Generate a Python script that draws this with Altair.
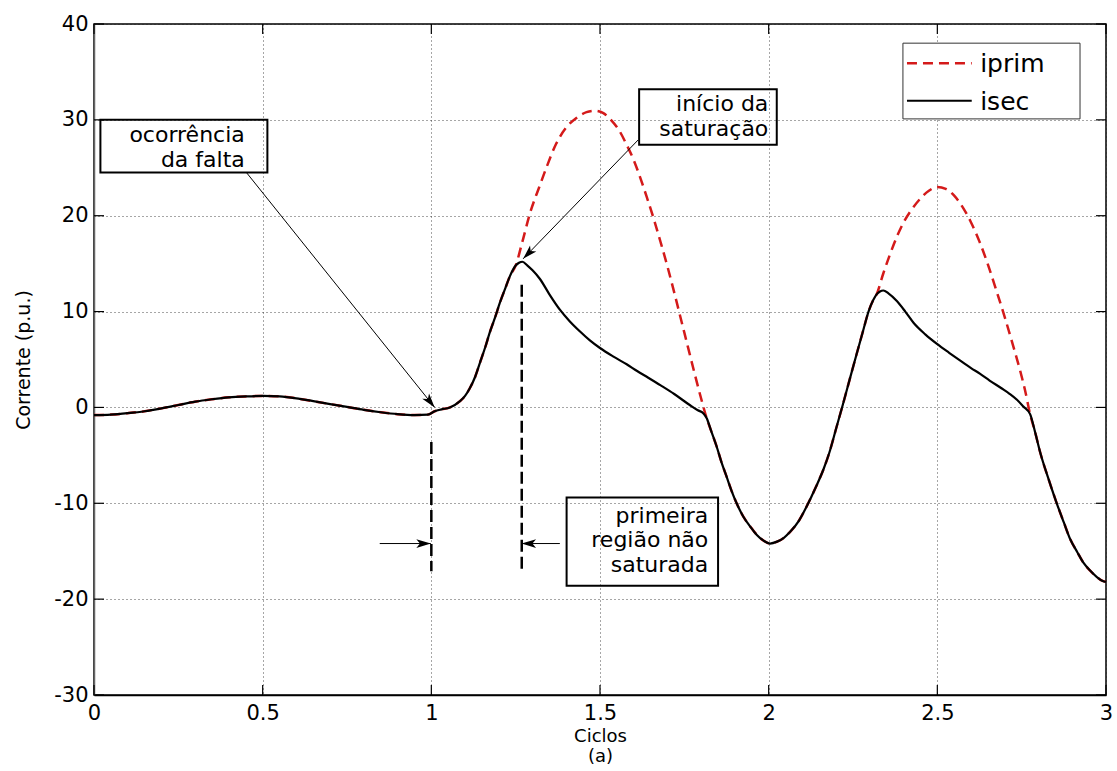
import math
import altair as alt
import pandas as pd

# ---------------- data ----------------
# shared part (before and just after the fault)
pre_t = [0.00, 0.05, 0.10, 0.15, 0.20, 0.25, 0.30, 0.35, 0.40, 0.45, 0.50, 0.55, 0.60,
         0.65, 0.70, 0.75, 0.80, 0.85, 0.90, 0.95, 0.99, 1.01, 1.03, 1.055, 1.085, 1.10,
         1.114, 1.13, 1.144, 1.16, 1.173, 1.19, 1.203, 1.22, 1.233, 1.25]
pre_v = [-0.8, -0.75, -0.6, -0.4, -0.1, 0.25, 0.6, 0.85, 1.05, 1.15, 1.2, 1.15, 0.95,
         0.65, 0.35, 0.05, -0.25, -0.5, -0.7, -0.8, -0.75, -0.4, -0.2, 0.0, 0.66, 1.2,
         2.0, 3.2, 4.65, 6.3, 7.8, 9.5, 10.9, 12.5, 13.7, 14.8]

# first saturated half-cycle
prim1_t = [1.27, 1.292, 1.32, 1.342, 1.37, 1.40, 1.43, 1.46, 1.485, 1.51, 1.535, 1.555,
           1.579, 1.60, 1.62, 1.64, 1.66, 1.68, 1.70, 1.72, 1.74, 1.76, 1.78, 1.80]
prim1_v = [17.3, 20.2, 23.0, 25.1, 27.5, 29.2, 30.2, 30.8, 30.95, 30.7, 29.9, 29.0,
           27.4, 25.8, 23.9, 21.8, 19.6, 17.2, 14.7, 12.0, 9.2, 6.4, 3.6, 0.9]
sec1_t = [1.26, 1.27, 1.285, 1.30, 1.322, 1.35, 1.381, 1.41, 1.44, 1.47, 1.50, 1.54,
          1.579, 1.61, 1.643, 1.68, 1.72, 1.766, 1.79, 1.806]
sec1_v = [15.1, 15.2, 14.8, 14.3, 13.4, 11.8, 10.2, 9.0, 7.95, 7.0, 6.2, 5.3,
          4.5, 3.8, 3.1, 2.3, 1.4, 0.25, -0.3, -0.6]

# shared part (negative half-cycle)
mid_t = [1.816, 1.83, 1.846, 1.86, 1.875, 1.89, 1.905, 1.925, 1.945, 1.965, 1.985, 2.004,
         2.025, 2.045, 2.063, 2.09, 2.113, 2.14, 2.162, 2.18, 2.20, 2.22, 2.24, 2.261,
         2.28, 2.296, 2.31, 2.32]
mid_v = [-1.1, -2.5, -4.1, -5.7, -7.2, -8.7, -10.0, -11.4, -12.4, -13.3, -13.9, -14.2,
         -14.0, -13.6, -13.0, -11.8, -10.3, -8.3, -6.5, -4.7, -2.2, 0.3, 2.9, 5.6,
         8.0, 10.0, 11.2, 11.8]

# second saturated half-cycle
prim2_t = [2.34, 2.36, 2.38, 2.40, 2.425, 2.45, 2.475, 2.50, 2.525, 2.55, 2.575, 2.60,
           2.625, 2.65, 2.675, 2.70, 2.725, 2.745, 2.76]
prim2_v = [14.0, 16.0, 17.8, 19.3, 20.7, 21.8, 22.6, 23.0, 22.8, 22.1, 20.9, 19.3,
           17.3, 14.9, 12.2, 9.4, 6.4, 3.9, 1.8]
sec2_t = [2.33, 2.34, 2.355, 2.38, 2.405, 2.43, 2.465, 2.50, 2.535, 2.567, 2.60, 2.627,
          2.655, 2.69, 2.715, 2.736, 2.755]
sec2_v = [12.1, 12.2, 11.9, 11.1, 10.0, 8.8, 7.6, 6.6, 5.7, 4.9, 4.1, 3.5,
          2.8, 2.0, 1.4, 0.8, 0.1]

# shared final part
end_t = [2.775, 2.79, 2.805, 2.83, 2.854, 2.875, 2.894, 2.915, 2.933, 2.955, 2.973, 2.99, 3.0]
end_v = [-0.7, -2.6, -4.7, -7.5, -10.0, -12.0, -13.75, -15.1, -16.2, -17.1, -17.7, -18.1, -18.2]

series_names = ["iprim", "isec"]
x_ticks = [0, 0.5, 1, 1.5, 2, 2.5, 3]
y_ticks = [-30, -20, -10, 0, 10, 20, 30, 40]

# annotation boxes (data coordinates)
box_x = [0.019, 1.616, 1.401]
box_x2 = [0.514, 2.024, 1.850]
box_y = [30.0, 33.2, -9.4]
box_y2 = [24.5, 27.4, -18.6]

note_x = [0.447, 0.447, 1.999, 1.999, 1.821, 1.821, 1.821]
note_y = [27.7, 25.1, 30.9, 28.3, -12.1, -14.6, -17.2]
note_txt = ["ocorrência", "da falta", "início da", "saturação", "primeira", "região não", "saturada"]

arrow_x0 = [0.452, 1.613, 0.847, 1.381]
arrow_y0 = [24.5, 27.9, -14.2, -14.2]
arrow_x1 = [1.010, 1.272, 0.9985, 1.2675]
arrow_y1 = [0.0, 15.5, -14.2, -14.2]

vline_x = [1.0, 1.268]
vline_y0 = [-3.6, 12.8]
vline_y1 = [-17.1, -17.1]

# legend (data coordinates)
leg_box = [2.398, 2.923, 38.0, 30.1]
leg_x0, leg_x1, leg_tx = 2.41, 2.602, 2.627
leg_row_y = [35.9, 32.0]

# ---------------- build tables ----------------
iprim_t = pre_t + prim1_t + mid_t + prim2_t + end_t
iprim_v = pre_v + prim1_v + mid_v + prim2_v + end_v
isec_t = pre_t + sec1_t + mid_t + sec2_t + end_t
isec_v = pre_v + sec1_v + mid_v + sec2_v + end_v

df_prim = pd.DataFrame({"t": iprim_t, "i": iprim_v})
df_sec = pd.DataFrame({"t": isec_t, "i": isec_v})

W, H = 1012, 671
RED = "#d41a1a"
FONT = "DejaVu Sans"

xs = alt.Scale(domain=[0, 3], nice=False, zero=False)
ys = alt.Scale(domain=[-30, 40], nice=False, zero=False)

x_axis = alt.Axis(values=x_ticks, labelExpr="'' + datum.value", grid=True, ticks=False,
                  labelFontSize=21, labelFont=FONT, labelColor="black", labelPadding=7,
                  domainColor="black", domainWidth=1.5, title=["Ciclos", "(a)"],
                  titleFont=FONT, titleFontSize=18, titleFontWeight="normal",
                  titleColor="black", titlePadding=4, titleLineHeight=20,
                  gridDash=[1, 3], gridColor="#222", gridOpacity=0.8, labelFlush=False)
y_axis = alt.Axis(values=y_ticks, labelExpr="'' + datum.value", grid=True, ticks=False,
                  labelFontSize=21, labelFont=FONT, labelColor="black", labelPadding=6,
                  domainColor="#666", domainWidth=1.5, title="Corrente (p.u.)",
                  titleFont=FONT, titleFontSize=19, titleFontWeight="normal",
                  titleColor="black", titlePadding=20, gridDash=[1, 3], gridColor="#222",
                  gridOpacity=0.8, labelFlush=False)

base_prim = alt.Chart(df_prim).mark_line(color=RED, strokeWidth=2.5, strokeDash=[10, 6],
                                          interpolate="monotone").encode(
    x=alt.X("t:Q", scale=xs, axis=x_axis),
    y=alt.Y("i:Q", scale=ys, axis=y_axis),
    order="t:Q",
)
line_sec = alt.Chart(df_sec).mark_line(color="black", strokeWidth=2.2,
                                       interpolate="monotone").encode(
    x=alt.X("t:Q", scale=xs), y=alt.Y("i:Q", scale=ys), order="t:Q")

# inward ticks on all four sides
df_xt = pd.DataFrame({"v": x_ticks})
df_yt = pd.DataFrame({"v": y_ticks})
tick_b = alt.Chart(df_xt).mark_rule(color="black", strokeWidth=1.2).encode(
    x=alt.X("v:Q", scale=xs), y=alt.value(H), y2=alt.value(H - 10))
tick_t = alt.Chart(df_xt).mark_rule(color="black", strokeWidth=1.2).encode(
    x=alt.X("v:Q", scale=xs), y=alt.value(0), y2=alt.value(10))
tick_l = alt.Chart(df_yt).mark_rule(color="black", strokeWidth=1.2).encode(
    y=alt.Y("v:Q", scale=ys), x=alt.value(0), x2=alt.value(10))
tick_r = alt.Chart(df_yt).mark_rule(color="black", strokeWidth=1.2).encode(
    y=alt.Y("v:Q", scale=ys), x=alt.value(W), x2=alt.value(W - 10))

# dashed vertical markers
df_vl = pd.DataFrame({"x": vline_x, "y0": vline_y0, "y1": vline_y1})
vlines = alt.Chart(df_vl).mark_rule(color="black", strokeWidth=2.5, strokeDash=[12, 5]).encode(
    x=alt.X("x:Q", scale=xs), y=alt.Y("y0:Q", scale=ys), y2="y1:Q")

# arrows
sx, sy = W / 3.0, H / 70.0
angles = []
for a, b, c, d in zip(arrow_x0, arrow_y0, arrow_x1, arrow_y1):
    dx = (c - a) * sx
    dy = -(d - b) * sy
    angles.append(math.degrees(math.atan2(dy, dx)) % 360)
df_ar = pd.DataFrame({"x0": arrow_x0, "y0": arrow_y0, "x1": arrow_x1, "y1": arrow_y1,
                      "ang": angles})
arrow_lines = alt.Chart(df_ar).mark_rule(color="black", strokeWidth=1).encode(
    x=alt.X("x0:Q", scale=xs), y=alt.Y("y0:Q", scale=ys), x2="x1:Q", y2="y1:Q")
arrow_heads = alt.Chart(df_ar).mark_point(
    shape="M0,0L-1,-0.3L-0.75,0L-1,0.3Z", filled=True, color="black", opacity=1,
    size=840, strokeWidth=0).encode(
    x=alt.X("x1:Q", scale=xs), y=alt.Y("y1:Q", scale=ys),
    angle=alt.Angle("ang:Q", scale=None))

# annotation boxes and texts
df_box = pd.DataFrame({"x": box_x, "x2": box_x2, "y": box_y, "y2": box_y2})
boxes = alt.Chart(df_box).mark_rect(fill="white", fillOpacity=0, stroke="black",
                                    strokeWidth=2).encode(
    x=alt.X("x:Q", scale=xs), x2="x2:Q", y=alt.Y("y:Q", scale=ys), y2="y2:Q")
df_note = pd.DataFrame({"x": note_x, "y": note_y, "txt": note_txt})
notes = alt.Chart(df_note).mark_text(align="right", baseline="alphabetic", font=FONT,
                                     fontSize=22, color="black").encode(
    x=alt.X("x:Q", scale=xs), y=alt.Y("y:Q", scale=ys), text="txt:N")

# legend
df_lbox = pd.DataFrame({"x": [leg_box[0]], "x2": [leg_box[1]], "y": [leg_box[2]], "y2": [leg_box[3]]})
leg_rect = alt.Chart(df_lbox).mark_rect(fill="white", stroke="#333", strokeWidth=1).encode(
    x=alt.X("x:Q", scale=xs), x2="x2:Q", y=alt.Y("y:Q", scale=ys), y2="y2:Q")
df_l1 = pd.DataFrame({"x0": [leg_x0], "x1": [leg_x1], "y": [leg_row_y[0]]})
df_l2 = pd.DataFrame({"x0": [leg_x0], "x1": [leg_x1], "y": [leg_row_y[1]]})
leg_l1 = alt.Chart(df_l1).mark_rule(color=RED, strokeWidth=2.5, strokeDash=[10, 6]).encode(
    x=alt.X("x0:Q", scale=xs), x2="x1:Q", y=alt.Y("y:Q", scale=ys))
leg_l2 = alt.Chart(df_l2).mark_rule(color="black", strokeWidth=2).encode(
    x=alt.X("x0:Q", scale=xs), x2="x1:Q", y=alt.Y("y:Q", scale=ys))
df_lt = pd.DataFrame({"x": [leg_tx, leg_tx], "y": leg_row_y, "txt": series_names})
leg_txt = alt.Chart(df_lt).mark_text(align="left", baseline="middle", font=FONT,
                                     fontSize=25, color="black", dy=1).encode(
    x=alt.X("x:Q", scale=xs), y=alt.Y("y:Q", scale=ys), text="txt:N")

chart = alt.layer(
    base_prim, line_sec, vlines, arrow_lines, boxes, notes, arrow_heads,
    tick_b, tick_t, tick_l, tick_r,
    leg_rect, leg_l1, leg_l2, leg_txt,
).properties(
    width=W, height=H,
    padding={"left": 94, "top": 24, "right": 11, "bottom": 76},
    autosize=alt.AutoSizeParams(type="none"),
    background="white",
).configure_view(stroke="black", strokeWidth=1.5)

chart.save("out.html", embed_options={"renderer": "svg", "actions": False})
